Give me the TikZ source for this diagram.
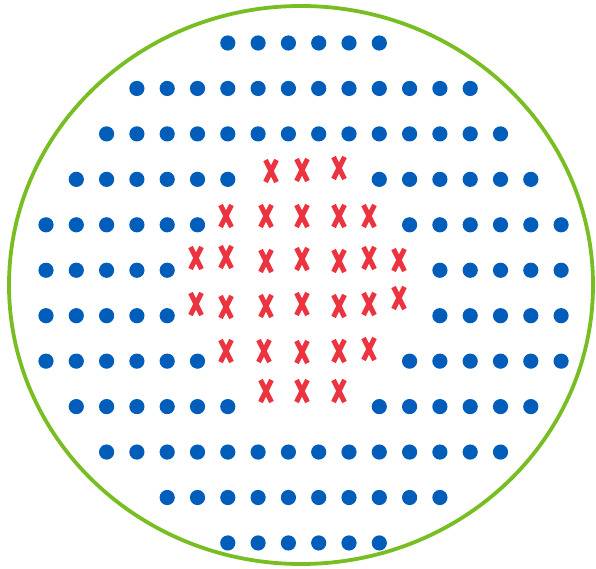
\documentclass[tikz,border=0pt]{standalone}
\definecolor{dotblue}{HTML}{005DB9}
\definecolor{xred}{HTML}{EC3440}
\definecolor{ringgreen}{HTML}{78BE22}
\tikzset{
  dotmark/.style={fill=dotblue, draw=none},
  xmark/.style={draw=xred, line width=5pt},
  ring/.style={draw=ringgreen, line width=3.8pt}
}
\begin{document}
\begin{tikzpicture}[x=1pt,y=-1pt]
\useasboundingbox (0,0) rectangle (596,569);
\draw[ring] (301,285) ellipse [x radius=292, y radius=279];
% dots: row, first col, last col
\foreach \r/\a/\b in {0/6/11,1/3/14,2/2/15,3/1/6,3/11/16,4/0/5,4/12/17,5/0/4,5/13/17,6/0/4,6/13/17,7/0/5,7/12/17,8/1/6,8/11/16,9/2/15,10/4/13,11/6/11}{
  \foreach \c in {\a,...,\b}{
    \fill[dotmark] ({46+30.3*\c},{43+45.45*\r}) circle (7.6);
  }
}
% crosses
\foreach \x/\y in {271/171,302/170,339/168,
  226/216,266/216,302/216,339/216,369/216,
  196/258,226/257,266/261,302/259,339/261,369/258,399/260,
  196/304,226/307,266/306,302/304,339/306,369/304,399/298,
  226/351,264/351,302/352,339/351,369/349,
  266/391,302/391,339/391}{
  \draw[xmark] (\x-5.5,\y-11) -- (\x+5.5,\y+11);
  \draw[xmark] (\x+5.5,\y-11) -- (\x-5.5,\y+11);
}
\end{tikzpicture}
\end{document}
